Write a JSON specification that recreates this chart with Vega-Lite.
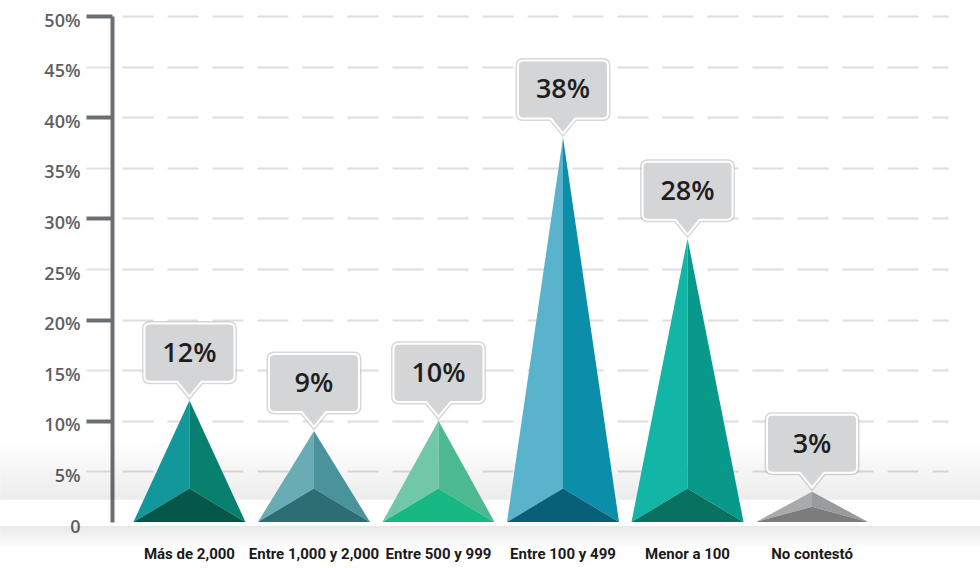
{
  "$schema": "https://vega.github.io/schema/vega-lite/v6.json",
  "width": 836,
  "height": 506,
  "autosize": {"type": "none"},
  "padding": {"left": 112, "top": 16, "right": 32, "bottom": 46},
  "background": "white",
  "config": {"view": {"stroke": null}},
  "data": {
    "values": [
      {"cat": "Más de 2,000", "value": 12},
      {"cat": "Entre 1,000 y 2,000", "value": 9},
      {"cat": "Entre 500 y 999", "value": 10},
      {"cat": "Entre 100 y 499", "value": 38},
      {"cat": "Menor a 100", "value": 28},
      {"cat": "No contestó", "value": 3}
    ]
  },
  "transform": [
    {"window": [{"op": "row_number", "as": "rn"}]},
    {"calculate": "datum.rn - 1", "as": "idx"},
    {"calculate": "datum.value + '%'", "as": "lbl"}
  ],
  "layer": [
    {
      "data": {"values": [{"band": "top"}]},
      "mark": {
        "type": "rect",
        "color": {
          "gradient": "linear", "x1": 0, "y1": 0, "x2": 0, "y2": 1,
          "stops": [
            {"offset": 0, "color": "rgba(0,0,0,0)"},
            {"offset": 1, "color": "rgba(0,0,0,0.075)"}
          ]
        }
      },
      "encoding": {
        "x": {"datum": -1.52, "type": "quantitative", "scale": {"domain": [-0.622, 6.092], "nice": false, "zero": false}, "axis": null},
        "x2": {"datum": 6.35},
        "y": {"datum": 8, "type": "quantitative", "scale": {"domain": [0, 50], "nice": false}},
        "y2": {"datum": 2.2}
      }
    },
    {
      "data": {"values": [{"band": "bottom"}]},
      "mark": {
        "type": "rect",
        "color": {
          "gradient": "linear", "x1": 0, "y1": 0, "x2": 0, "y2": 1,
          "stops": [
            {"offset": 0, "color": "rgba(0,0,0,0.09)"},
            {"offset": 1, "color": "rgba(0,0,0,0)"}
          ]
        }
      },
      "encoding": {
        "x": {"datum": -1.52, "type": "quantitative", "axis": null},
        "x2": {"datum": 6.35},
        "y": {"datum": -0.4, "type": "quantitative"},
        "y2": {"datum": -2.6}
      }
    },
    {
      "transform": [
        {"calculate": "min(3.3, datum.value * 0.5)", "as": "c"},
        {"calculate": "[{f:'L',dx:-0.45,yt:0,yb:0},{f:'L',dx:0,yt:datum.value,yb:datum.c},{f:'R',dx:0,yt:datum.value,yb:datum.c},{f:'R',dx:0.45,yt:0,yb:0},{f:'B',dx:-0.45,yt:0,yb:0},{f:'B',dx:0,yt:datum.c,yb:0},{f:'B',dx:0.45,yt:0,yb:0}]", "as": "pts"},
        {"flatten": ["pts"]},
        {"calculate": "datum.idx + datum.pts.dx", "as": "px"},
        {"calculate": "datum.pts.yt", "as": "yt"},
        {"calculate": "datum.pts.yb", "as": "yb"},
        {"calculate": "datum.cat + '|' + datum.pts.f", "as": "key"}
      ],
      "mark": {"type": "area", "orient": "vertical", "interpolate": "linear"},
      "encoding": {
        "x": {"field": "px", "type": "quantitative", "axis": null},
        "y": {
          "field": "yt", "type": "quantitative", "stack": null,
          "axis": {
            "title": null,
            "values": [0, 5, 10, 15, 20, 25, 30, 35, 40, 45, 50],
            "labelExpr": "datum.value == 0 ? '0' : datum.value + '%'",
            "labelFont": "Open Sans",
            "labelFontSize": 18,
            "labelFontWeight": 600,
            "labelColor": "#5f6064",
            "labelPadding": 6,
            "labelOffset": 5,
            "tickSize": 26,
            "tickWidth": {"condition": {"test": "datum.value % 10 == 0", "value": 4}, "value": 2},
            "tickColor": {"condition": [{"test": "datum.value == 0", "value": "rgba(0,0,0,0)"}, {"test": "datum.value % 10 == 0", "value": "#6b6e73"}], "value": "#e2e2e2"},
            "domainColor": "#6b6e73",
            "domainWidth": 4,
            "grid": true,
            "gridColor": "#dedede",
            "gridWidth": 2,
            "gridDash": [31, 14],
            "gridDashOffset": 35,
            "gridOpacity": {"condition": {"test": "datum.value == 0", "value": 0}, "value": 1}
          }
        },
        "y2": {"field": "yb"},
        "color": {
          "field": "key", "type": "nominal", "legend": null,
          "scale": {
            "domain": [
              "Más de 2,000|L", "Más de 2,000|R", "Más de 2,000|B",
              "Entre 1,000 y 2,000|L", "Entre 1,000 y 2,000|R", "Entre 1,000 y 2,000|B",
              "Entre 500 y 999|L", "Entre 500 y 999|R", "Entre 500 y 999|B",
              "Entre 100 y 499|L", "Entre 100 y 499|R", "Entre 100 y 499|B",
              "Menor a 100|L", "Menor a 100|R", "Menor a 100|B",
              "No contestó|L", "No contestó|R", "No contestó|B"
            ],
            "range": [
              "#12989a", "#08806f", "#05574a",
              "#6aacb4", "#4b939b", "#2d6e74",
              "#70c8a8", "#4db991", "#17b884",
              "#5ab3cc", "#0a8ea9", "#075f78",
              "#13b5a7", "#08998a", "#087160",
              "#a9aaac", "#9a9b9d", "#7b7c7e"
            ]
          }
        }
      }
    },
    {
      "mark": {
        "type": "point",
        "shape": "M -0.88,-1.71 L 0.88,-1.71 Q 1,-1.71 1,-1.59 L 1,-0.54 Q 1,-0.42 0.88,-0.42 L 0.27,-0.42 L 0,-0.09 L -0.27,-0.42 L -0.88,-0.42 Q -1,-0.42 -1,-0.54 L -1,-1.59 Q -1,-1.71 -0.88,-1.71 Z",
        "size": 8100,
        "filled": true,
        "fill": "#d4d5d7",
        "fillOpacity": 1,
        "stroke": "#a9a9a9",
        "strokeWidth": 5,
        "strokeOpacity": 0.45,
        "opacity": 1
      },
      "encoding": {
        "x": {"field": "idx", "type": "quantitative"},
        "y": {"field": "value", "type": "quantitative"}
      }
    },
    {
      "mark": {
        "type": "point",
        "shape": "M -0.88,-1.71 L 0.88,-1.71 Q 1,-1.71 1,-1.59 L 1,-0.54 Q 1,-0.42 0.88,-0.42 L 0.27,-0.42 L 0,-0.09 L -0.27,-0.42 L -0.88,-0.42 Q -1,-0.42 -1,-0.54 L -1,-1.59 Q -1,-1.71 -0.88,-1.71 Z",
        "size": 8100,
        "filled": true,
        "fill": "#d4d5d7",
        "fillOpacity": 1,
        "stroke": "white",
        "strokeWidth": 2,
        "opacity": 1
      },
      "encoding": {
        "x": {"field": "idx", "type": "quantitative"},
        "y": {"field": "value", "type": "quantitative"}
      }
    },
    {
      "mark": {
        "type": "text",
        "dy": -47,
        "align": "center",
        "baseline": "middle",
        "font": "Open Sans",
        "fontSize": 27,
        "fontWeight": 600,
        "color": "#1e1e1e"
      },
      "encoding": {
        "x": {"field": "idx", "type": "quantitative"},
        "y": {"field": "value", "type": "quantitative"},
        "text": {"field": "lbl"}
      }
    },
    {
      "mark": {
        "type": "text",
        "dy": 32,
        "align": "center",
        "baseline": "middle",
        "font": "Roboto",
        "fontSize": 15,
        "fontWeight": "bold",
        "color": "#1a1a1a"
      },
      "encoding": {
        "x": {"field": "idx", "type": "quantitative"},
        "y": {"datum": 0, "type": "quantitative"},
        "text": {"field": "cat"}
      }
    }
  ]
}
